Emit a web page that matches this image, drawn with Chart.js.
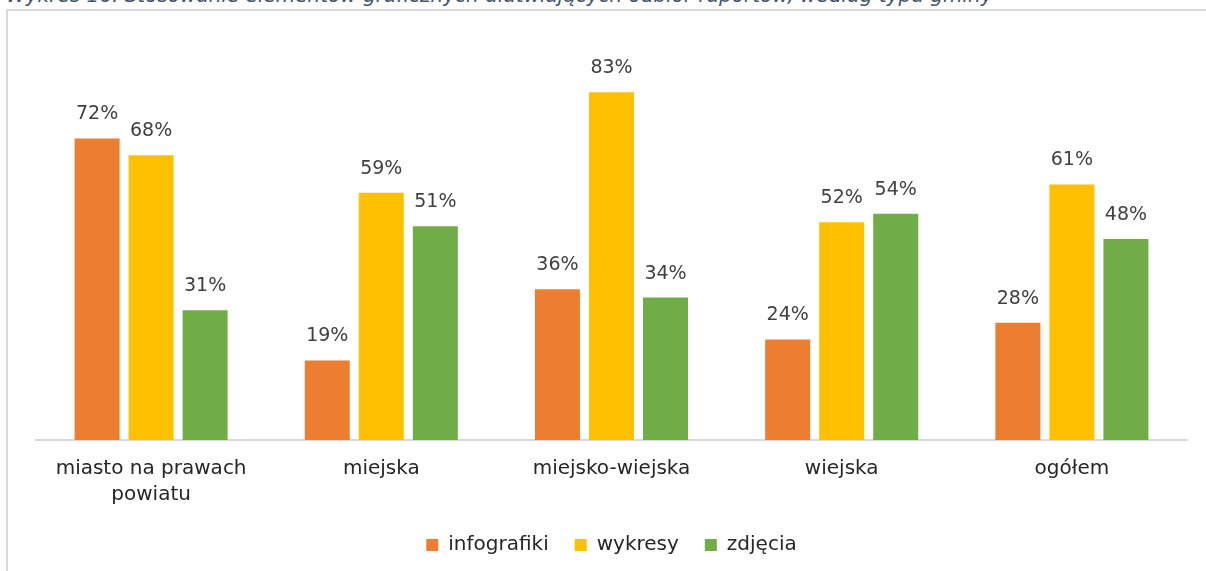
<!DOCTYPE html>
<html>
<head>
<meta charset="utf-8">
<script src="https://cdn.jsdelivr.net/npm/chart.js@4/dist/chart.umd.min.js"></script>
<style>
  html, body { margin: 0; padding: 0; background: #fff; overflow: hidden; }
  #title {
    position: absolute; left: 6px; top: -17px; white-space: nowrap;
    font: italic 20px "DejaVu Sans", sans-serif; color: #44546a;
  }
  #frame {
    position: absolute; left: 6px; top: 9px; width: 1300px; height: 700px;
    border: 2px solid #d9d9d9; border-width: 2px 0 0 2px;
  }
  #wrap { position: absolute; left: 0; top: 0; width: 1206px; height: 571px; }
</style>
</head>
<body>
<div id="title">Wykres 16. Stosowanie elementów graficznych ułatwiających odbiór raportów, według typu gminy</div>
<div id="frame"></div>
<div id="wrap"><canvas id="myChart"></canvas></div>
<script>
const categories = [['miasto na prawach', 'powiatu'], 'miejska', 'miejsko-wiejska', 'wiejska', 'ogółem'];
const infografiki = [72, 19, 36, 24, 28];
const wykresy = [68, 59, 83, 52, 61];
const zdjecia = [31, 51, 34, 54, 48];

const FONT = '"DejaVu Sans", sans-serif';

// values above the bars
const valueLabels = {
  id: 'valueLabels',
  afterDatasetsDraw(chart) {
    const c = chart.ctx;
    c.save();
    c.font = '19px ' + FONT;
    c.fillStyle = '#404040';
    c.textAlign = 'center';
    c.textBaseline = 'alphabetic';
    chart.data.datasets.forEach((ds, i) => {
      chart.getDatasetMeta(i).data.forEach((bar, j) => {
        c.fillText(ds.data[j] + '%', bar.x, bar.y - 19);
      });
    });
    c.restore();
  }
};

new Chart(document.getElementById('myChart'), {
  type: 'bar',
  data: {
    labels: categories,
    datasets: [
      { label: 'infografiki', data: infografiki, backgroundColor: '#ed7d31' },
      { label: 'wykresy', data: wykresy, backgroundColor: '#ffc000' },
      { label: 'zdjęcia', data: zdjecia, backgroundColor: '#70ad47' },
    ],
  },
  options: {
    responsive: true,
    maintainAspectRatio: false,
    animation: false,
    categoryPercentage: 0.704,
    barPercentage: 0.833,
    layout: { padding: { left: 36, right: 19, top: 63, bottom: 6 } },
    scales: {
      x: {
        grid: { display: false },
        border: { color: '#d9d9d9', width: 2 },
        ticks: { color: '#262626', font: { family: FONT, size: 20, lineHeight: 1.3 }, padding: 8, maxRotation: 0 },
        afterFit(scale) { scale.height -= 7; },
      },
      y: { display: false, min: 0, max: 90 },
    },
    plugins: {
      tooltip: { enabled: false },
      legend: {
        position: 'bottom',
        labels: {
          color: '#262626',
          font: { family: FONT, size: 20 },
          boxWidth: 12, boxHeight: 12, padding: 26,
        },
      },
    },
  },
  plugins: [valueLabels],
});
</script>
</body>
</html>
